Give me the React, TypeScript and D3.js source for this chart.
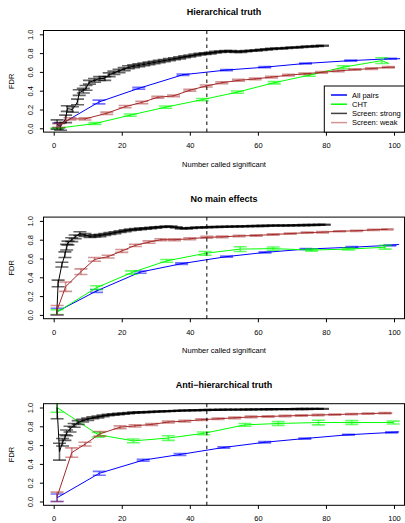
import React, { useEffect, useRef } from "react";
import * as d3 from "d3";

// each point: [number called significant, mean FDR, error half-width]
type Pt = [number, number, number];

const titles = ["Hierarchical truth", "No main effects", "Anti\u2212hierarchical truth"];
const seriesNames = ["All pairs", "CHT", "Screen: strong", "Screen: weak"];
const xTicks = [0, 20, 40, 60, 80, 100];
const yTicks = [0, 0.2, 0.4, 0.6, 0.8, 1.0];
const cutoff = 45;

const hierAll: Pt[] = [[1.5, 0.03, 0.025], [13.3, 0.28, 0.02], [25, 0.425, 0.01], [38, 0.57, 0.008], [50.8, 0.62, 0.006], [62, 0.65, 0.006], [74, 0.69, 0.005], [87.3, 0.72, 0.005], [99, 0.74, 0.005], [101.8, 0.74, 0]];
const hierCht: Pt[] = [[1, 0.0, 0.005], [12.1, 0.05, 0.01], [22.5, 0.14, 0.012], [32.9, 0.225, 0.012], [43.7, 0.305, 0.012], [54, 0.385, 0.012], [64.8, 0.485, 0.012], [75.1, 0.565, 0.012], [85.1, 0.65, 0.015], [96.4, 0.72, 0.03], [98.5, 0.69, 0]];
const hierStrong: Pt[] = [[1, 0.04, 0.05], [2, 0.02, 0.04], [3.5, 0.1, 0.04], [4, 0.21, 0.03], [5.5, 0.2, 0.03], [7, 0.28, 0.03], [7.5, 0.38, 0.03], [8.7, 0.4, 0.025], [9.5, 0.43, 0.025], [10.5, 0.49, 0.02], [12, 0.51, 0.02], [13.5, 0.53, 0.02], [15, 0.53, 0.02], [16.3, 0.57, 0.02], [17.7, 0.59, 0.018], [19.2, 0.61, 0.018], [20.7, 0.63, 0.016], [22, 0.65, 0.016], [23.5, 0.66, 0.015], [25, 0.67, 0.015], [26.5, 0.68, 0.014], [28, 0.69, 0.014], [29.5, 0.7, 0.013], [31, 0.71, 0.013], [32.5, 0.72, 0.012], [34, 0.73, 0.012], [35.5, 0.74, 0.011], [37, 0.75, 0.011], [38.5, 0.76, 0.01], [40, 0.77, 0.01], [41.5, 0.78, 0.01], [43, 0.79, 0.009], [44.5, 0.795, 0.009], [46, 0.8, 0.008], [47.5, 0.81, 0.008], [49, 0.815, 0.008], [50.5, 0.82, 0.007], [52, 0.82, 0.007], [53.5, 0.815, 0.007], [55, 0.815, 0.007], [56.5, 0.82, 0.006], [58, 0.825, 0.006], [59.5, 0.83, 0.006], [61, 0.835, 0.006], [62.5, 0.84, 0.006], [64, 0.845, 0.005], [65.5, 0.85, 0.005], [67, 0.85, 0.005], [68.5, 0.855, 0.005], [70, 0.86, 0.005], [71.5, 0.86, 0.005], [73, 0.865, 0.005], [74.5, 0.87, 0.005], [76, 0.87, 0.005], [77.5, 0.875, 0.005], [79, 0.878, 0.005]];
const hierWeak: Pt[] = [[1.5, 0.03, 0.02], [4.8, 0.1, 0.012], [9.2, 0.1, 0.012], [15.6, 0.16, 0.012], [21, 0.23, 0.012], [25.9, 0.275, 0.012], [30.6, 0.33, 0.01], [35.2, 0.345, 0.01], [40, 0.405, 0.01], [44.8, 0.45, 0.01], [49.4, 0.485, 0.01], [54.3, 0.51, 0.01], [59.2, 0.525, 0.009], [64, 0.545, 0.009], [69, 0.565, 0.009], [73.8, 0.58, 0.008], [78.7, 0.595, 0.008], [83.6, 0.61, 0.008], [88.5, 0.625, 0.008], [93.4, 0.635, 0.008], [98.3, 0.65, 0.008], [100.3, 0.65, 0]];

const noMainAll: Pt[] = [[1, 0.035, 0.035], [12.6, 0.255, 0.015], [25.4, 0.455, 0.012], [37.6, 0.545, 0.008], [50.8, 0.62, 0.007], [62.1, 0.665, 0.007], [74.1, 0.7, 0.006], [87.6, 0.72, 0.006], [98.8, 0.74, 0.006], [101.5, 0.75, 0]];
const noMainCht: Pt[] = [[1, 0.03, 0.025], [12.6, 0.29, 0.02], [22.9, 0.45, 0.018], [33.2, 0.575, 0.015], [44.5, 0.655, 0.02], [54.8, 0.7, 0.025], [64.5, 0.705, 0.018], [75.8, 0.69, 0.012], [86.6, 0.7, 0.01], [97.4, 0.72, 0.02]];
const noMainStrong: Pt[] = [[0.9, 0.0, 0], [1.3, 0.335, 0.035], [2.4, 0.535, 0.025], [3.3, 0.64, 0.03], [3.8, 0.72, 0.03], [4.2, 0.765, 0.02], [5.3, 0.8, 0.02], [6.3, 0.83, 0.02], [7.7, 0.865, 0.02], [9.2, 0.85, 0.015], [10.7, 0.835, 0.012], [12.1, 0.84, 0.012], [13.6, 0.845, 0.012], [15, 0.855, 0.01], [16.5, 0.865, 0.01], [18, 0.875, 0.01], [19.5, 0.885, 0.009], [21, 0.895, 0.009], [22.5, 0.905, 0.008], [24, 0.91, 0.008], [25.5, 0.915, 0.008], [27, 0.92, 0.007], [28.5, 0.925, 0.007], [30, 0.93, 0.007], [31.5, 0.935, 0.006], [33, 0.94, 0.006], [34.5, 0.94, 0.006], [36, 0.93, 0.006], [37.5, 0.92, 0.006], [39, 0.92, 0.006], [40.5, 0.925, 0.005], [42, 0.93, 0.005], [43.5, 0.93, 0.005], [45, 0.933, 0.005], [46.5, 0.935, 0.005], [48, 0.935, 0.005], [49.5, 0.937, 0.005], [51, 0.938, 0.005], [52.5, 0.94, 0.005], [54, 0.94, 0.005], [55.5, 0.942, 0.005], [57, 0.943, 0.005], [58.5, 0.945, 0.005], [60, 0.946, 0.005], [61.5, 0.947, 0.005], [63, 0.948, 0.005], [64.5, 0.95, 0.005], [66, 0.95, 0.005], [67.5, 0.951, 0.005], [69, 0.952, 0.005], [70.5, 0.953, 0.005], [72, 0.954, 0.005], [73.5, 0.955, 0.005], [75, 0.956, 0.005], [76.5, 0.957, 0.005], [78, 0.958, 0.005], [79.5, 0.96, 0.005]];
const noMainWeak: Pt[] = [[1, 0.05, 0.05], [3.5, 0.3, 0.05], [8, 0.46, 0.03], [12, 0.59, 0.02], [16, 0.62, 0.015], [20, 0.68, 0.015], [24, 0.74, 0.012], [28, 0.775, 0.012], [31.5, 0.8, 0.01], [35.5, 0.8, 0.01], [40, 0.81, 0.01], [45, 0.825, 0.01], [49.5, 0.83, 0.008], [54.5, 0.84, 0.008], [59.5, 0.845, 0.008], [64.5, 0.855, 0.008], [69.5, 0.865, 0.007], [74.5, 0.875, 0.007], [79, 0.88, 0.007], [84, 0.89, 0.006], [89, 0.895, 0.006], [94, 0.905, 0.006], [98, 0.91, 0.006]];

const antiAll: Pt[] = [[1, 0.04, 0.04], [13.4, 0.3, 0.02], [26.3, 0.44, 0.01], [37.1, 0.5, 0.01], [50, 0.575, 0.008], [62, 0.63, 0.007], [73.8, 0.67, 0.006], [86.6, 0.71, 0.006], [99.3, 0.735, 0.006], [101.5, 0.74, 0]];
const antiCht: Pt[] = [[1, 1.0, 0.05], [13.1, 0.71, 0.025], [23.4, 0.645, 0.02], [33.7, 0.675, 0.025], [44, 0.725, 0.015], [56.2, 0.815, 0.015], [66, 0.83, 0.02], [77.8, 0.84, 0.025], [87.6, 0.84, 0.02], [99.8, 0.84, 0.015]];
const antiStrong: Pt[] = [[1, 1.0, 0.12], [1.7, 0.53, 0.09], [2.6, 0.63, 0.04], [3.3, 0.68, 0.03], [3.8, 0.73, 0.03], [4.8, 0.77, 0.03], [6, 0.81, 0.02], [7.2, 0.84, 0.02], [8.5, 0.86, 0.015], [10, 0.875, 0.012], [11.5, 0.89, 0.01], [13, 0.9, 0.01], [14.5, 0.91, 0.009], [16, 0.92, 0.008], [17.5, 0.925, 0.008], [19, 0.93, 0.007], [20.5, 0.935, 0.007], [22, 0.94, 0.006], [23.5, 0.945, 0.006], [25, 0.948, 0.006], [26.5, 0.95, 0.005], [28, 0.953, 0.005], [29.5, 0.955, 0.005], [31, 0.958, 0.005], [32.5, 0.96, 0.005], [34, 0.962, 0.004], [35.5, 0.964, 0.004], [37, 0.966, 0.004], [38.5, 0.968, 0.004], [40, 0.97, 0.004], [41.5, 0.971, 0.004], [43, 0.972, 0.004], [44.5, 0.973, 0.004], [46, 0.974, 0.004], [47.5, 0.975, 0.004], [49, 0.976, 0.004], [50.5, 0.977, 0.004], [52, 0.977, 0.004], [53.5, 0.978, 0.004], [55, 0.978, 0.004], [56.5, 0.979, 0.004], [58, 0.979, 0.004], [59.5, 0.98, 0.004], [61, 0.98, 0.004], [62.5, 0.981, 0.004], [64, 0.981, 0.004], [65.5, 0.982, 0.004], [67, 0.982, 0.004], [68.5, 0.983, 0.004], [70, 0.983, 0.004], [71.5, 0.984, 0.004], [73, 0.984, 0.004], [74.5, 0.984, 0.004], [76, 0.985, 0.004], [77.5, 0.985, 0.004], [79, 0.985, 0.004]];
const antiWeak: Pt[] = [[1, 0.05, 0.05], [5.3, 0.52, 0.05], [9.2, 0.61, 0.02], [13.6, 0.72, 0.025], [19.5, 0.79, 0.015], [23.9, 0.805, 0.012], [28.8, 0.82, 0.01], [33.7, 0.845, 0.01], [38.5, 0.855, 0.009], [43.5, 0.87, 0.009], [48.3, 0.88, 0.008], [53.2, 0.89, 0.008], [58, 0.9, 0.008], [63, 0.905, 0.007], [68, 0.91, 0.007], [72.8, 0.915, 0.007], [77.7, 0.92, 0.007], [82.6, 0.925, 0.006], [87.5, 0.93, 0.006], [92.4, 0.935, 0.006], [97.3, 0.94, 0.006], [99.5, 0.94, 0]];

const panels: Pt[][][] = [
  [hierAll, hierCht, hierStrong, hierWeak],
  [noMainAll, noMainCht, noMainStrong, noMainWeak],
  [antiAll, antiCht, antiStrong, antiWeak],
];

const lineCols = ["#0000ff", "#00ff00", "#000000", "#a52a2a"];
const barAlpha = [0.55, 0.6, 0.6, 0.5];

const W = 405;
const H = 523;
const font = "'Liberation Sans', Arial, Helvetica, sans-serif";

const App = () => {
  const ref = useRef<SVGSVGElement>(null);

  useEffect(() => {
    const svg = d3.select(ref.current);
    svg.selectAll("*").remove();

    const boxLeft = 43.5;
    const boxRight = 404.5;
    const x = d3.scaleLinear().domain([0, 100]).range([53.7, 394]);

    panels.forEach((series, k) => {
      const off = k * 186.6;
      const y = d3.scaleLinear().domain([0, 1]).range([128.3 + off, 34.3 + off]);
      const top = 30.5 + off;
      const bottom = 132.1 + off;
      const g = svg.append("g");

      const clipId = `clip${k}`;
      svg.append("clipPath").attr("id", clipId)
        .append("rect")
        .attr("x", boxLeft).attr("y", top)
        .attr("width", boxRight - boxLeft).attr("height", bottom - top);

      const plot = g.append("g").attr("clip-path", `url(#${clipId})`);

      series.forEach((pts, i) => {
        const line = d3.line<Pt>().x(d => x(d[0])).y(d => y(d[1]));
        plot.append("path")
          .attr("d", line(pts))
          .attr("fill", "none")
          .attr("stroke", lineCols[i])
          .attr("stroke-width", 1);

        const bars = plot.append("g")
          .attr("stroke", lineCols[i])
          .attr("stroke-opacity", barAlpha[i])
          .attr("stroke-width", 1.6)
          .attr("fill", "none");
        pts.filter(d => d[2] > 0).forEach(d => {
          const cx = x(d[0]);
          const lo = y(d[1] - d[2]);
          const hi = y(d[1] + d[2]);
          bars.append("line").attr("x1", cx).attr("x2", cx).attr("y1", lo).attr("y2", hi);
          bars.append("line").attr("x1", cx - 6.5).attr("x2", cx + 6.5).attr("y1", lo).attr("y2", lo);
          bars.append("line").attr("x1", cx - 6.5).attr("x2", cx + 6.5).attr("y1", hi).attr("y2", hi);
        });
      });

      // cutoff
      g.append("line")
        .attr("x1", x(cutoff)).attr("x2", x(cutoff))
        .attr("y1", top).attr("y2", bottom)
        .attr("stroke", "#000")
        .attr("stroke-dasharray", "3.5,3.5");

      g.append("rect")
        .attr("x", boxLeft).attr("y", top)
        .attr("width", boxRight - boxLeft).attr("height", bottom - top)
        .attr("fill", "none").attr("stroke", "#000");

      const xAxis = g.append("g")
        .attr("transform", `translate(0,${bottom})`)
        .call(d3.axisBottom(x).tickValues(xTicks).tickSize(3.6).tickPadding(7).tickSizeOuter(0));
      xAxis.select(".domain").remove();
      xAxis.selectAll("text").attr("font-size", 7.5).attr("font-family", font).attr("fill", "#000");

      const yAxis = g.append("g")
        .attr("transform", `translate(${boxLeft},0)`)
        .call(d3.axisLeft(y).tickValues(yTicks).tickSize(3.6).tickFormat(d3.format(".1f")).tickSizeOuter(0));
      yAxis.select(".domain").remove();
      yAxis.selectAll("text")
        .attr("x", null).attr("dy", null)
        .attr("transform", "translate(-13.5,0) rotate(-90)")
        .attr("text-anchor", "middle")
        .attr("dominant-baseline", "central")
        .attr("font-size", 7.5).attr("font-family", font).attr("fill", "#000");

      g.append("text")
        .attr("x", (boxLeft + boxRight) / 2).attr("y", 15 + off)
        .attr("text-anchor", "middle")
        .attr("font-weight", "bold").attr("font-size", 9)
        .attr("font-family", font)
        .text(titles[k]);

      // the bottom panel's axis title falls below the page, as in the reference
      if (k < 2) {
        g.append("text")
          .attr("x", (boxLeft + boxRight) / 2).attr("y", 166.8 + off)
          .attr("text-anchor", "middle")
          .attr("font-size", 7.5).attr("font-family", font)
          .text("Number called significant");
      }

      g.append("text")
        .attr("transform", `translate(11,${(top + bottom) / 2}) rotate(-90)`)
        .attr("text-anchor", "middle")
        .attr("dominant-baseline", "central")
        .attr("font-size", 7.5).attr("font-family", font)
        .text("FDR");

      if (k === 0) {
        const lg = g.append("g");
        lg.append("rect")
          .attr("x", 324.3).attr("y", 86)
          .attr("width", boxRight - 324.3).attr("height", bottom - 86)
          .attr("fill", "#fff").attr("stroke", "#000");
        seriesNames.forEach((name, i) => {
          const ly = 95 + i * 9.2;
          lg.append("line")
            .attr("x1", 331).attr("x2", 347).attr("y1", ly).attr("y2", ly)
            .attr("stroke", lineCols[i])
            .attr("stroke-opacity", i === 3 ? 0.5 : i === 2 ? 0.75 : 1)
            .attr("stroke-width", 1.5);
          lg.append("text")
            .attr("x", 352).attr("y", ly)
            .attr("dominant-baseline", "central")
            .attr("font-size", 7.5).attr("font-family", font)
            .text(name);
        });
      }
    });
  }, []);

  return <svg ref={ref} width={W} height={H} style={{ position: "absolute", left: 0, top: 0, background: "#fff" }} />;
};

export default App;
